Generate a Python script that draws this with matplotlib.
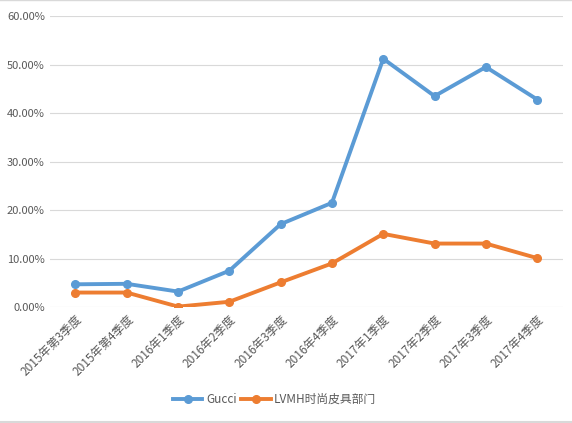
import matplotlib
matplotlib.use("Agg")
import matplotlib.pyplot as plt
from matplotlib.ticker import PercentFormatter

plt.rcParams['font.family'] = ['Noto Sans CJK SC', 'DejaVu Sans']

quarters = ['2015年第3季度', '2015年第4季度', '2016年1季度', '2016年2季度', '2016年3季度',
            '2016年4季度', '2017年1季度', '2017年2季度', '2017年3季度', '2017年4季度']
gucci = [4.7, 4.8, 3.2, 7.5, 17.1, 21.5, 51.2, 43.5, 49.5, 42.8]
lvmh = [3.0, 3.0, 0.1, 1.1, 5.1, 9.0, 15.1, 13.1, 13.1, 10.1]

fig = plt.figure(figsize=(5.72, 4.23), dpi=100)
ax = fig.add_axes([0.087, 0.274, 0.897, 0.688])

x = range(len(quarters))
ax.plot(x, gucci, color='#5B9BD5', lw=2.8, marker='o', ms=5.5, label='Gucci')
ax.plot(x, lvmh, color='#ED7D31', lw=2.8, marker='o', ms=5.5, label='LVMH时尚皮具部门')

ax.set_xlim(-0.5, len(quarters) - 0.5)
ax.set_ylim(0, 60)
ax.set_yticks(range(0, 61, 10))
ax.yaxis.set_major_formatter(PercentFormatter(decimals=2))
ax.grid(axis='y', color='#D9D9D9', lw=0.8)
ax.set_axisbelow(True)
for s in ax.spines.values():
    s.set_visible(False)
ax.tick_params(length=0, labelsize=8, colors='#595959')
ax.tick_params(axis='x', labelsize=8.5, pad=4)
ax.set_xticks(list(x))
ax.set_xticklabels(quarters, rotation=45, ha='right', rotation_mode='anchor')

fig.legend(loc='center', bbox_to_anchor=(0.48, 0.055), ncol=2, frameon=False,
           fontsize=8.5, labelcolor='#595959', handlelength=2.5, columnspacing=0.4,
           handletextpad=0.3)

# thin grey border lines at top and bottom of the image
fig.add_artist(plt.Line2D([0, 1], [0.999, 0.999], color='#D9D9D9', lw=1, transform=fig.transFigure))
fig.add_artist(plt.Line2D([0, 1], [0.002, 0.002], color='#D9D9D9', lw=1.5, transform=fig.transFigure))

fig.savefig('out.png', dpi=100)
